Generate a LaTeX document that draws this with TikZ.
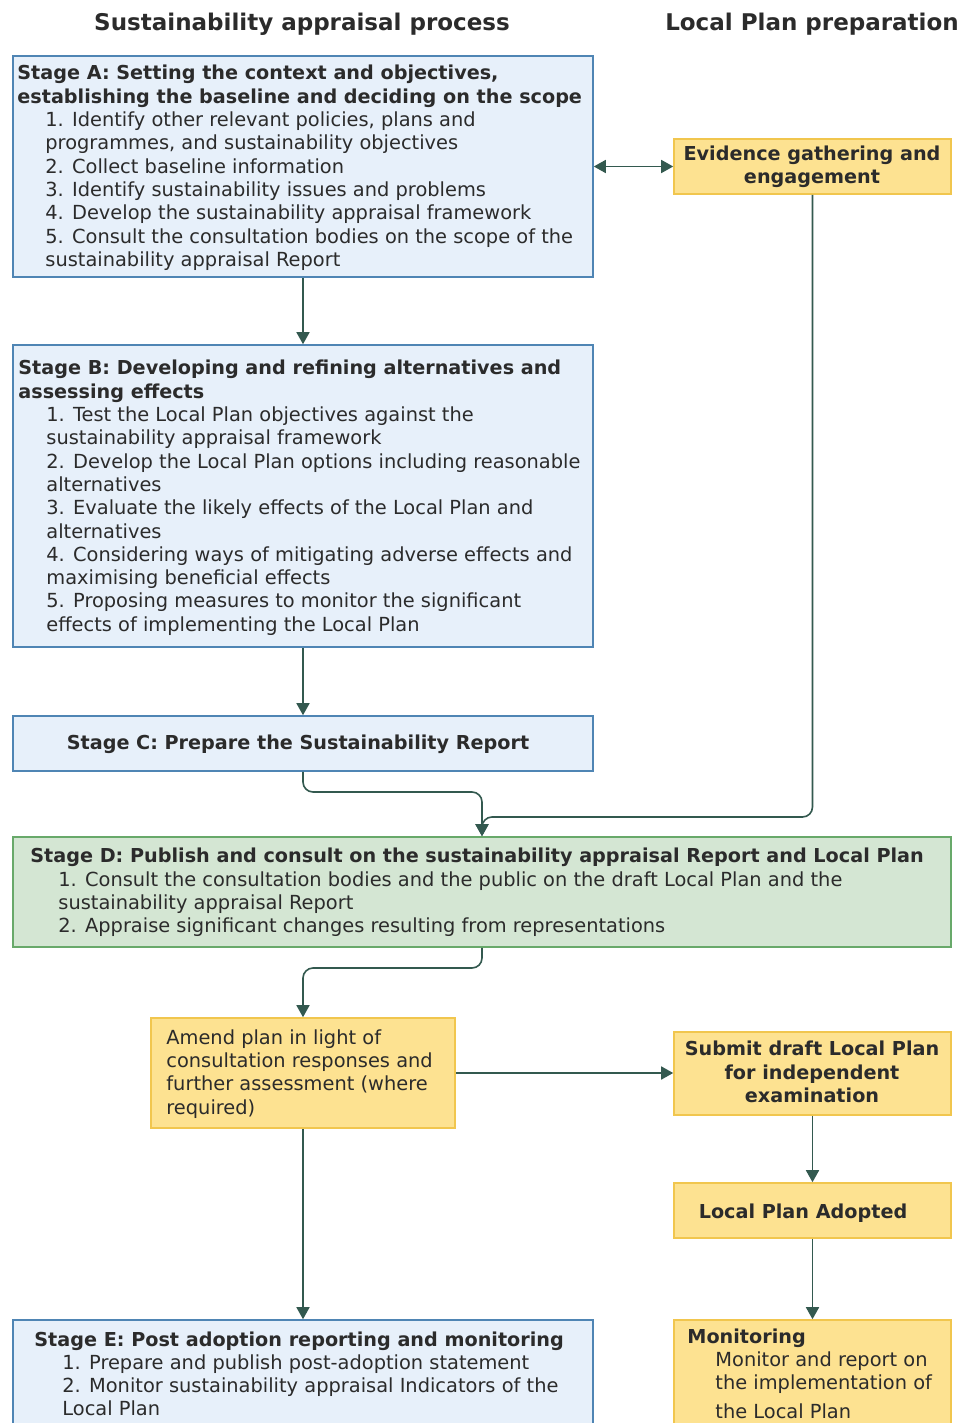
\documentclass[tikz,border=0pt]{standalone}
\usepackage{fontspec}
\setmainfont{DejaVu Sans}
\usetikzlibrary{arrows.meta,positioning}
\definecolor{safill}{HTML}{E7F0FA}
\definecolor{saedge}{HTML}{4F85B4}
\definecolor{lpfill}{HTML}{FDE291}
\definecolor{lpedge}{HTML}{F1C64E}
\definecolor{pubfill}{HTML}{D4E6D3}
\definecolor{pubedge}{HTML}{68A96A}
\definecolor{flow}{HTML}{33594F}
\definecolor{ink}{HTML}{2B2B2B}
\newcommand{\itemind}{\hspace*{14pt}}
\newcommand{\sttl}[1]{{\fontsize{9.6}{11.65}\selectfont\bfseries #1}}

\begin{document}
\begin{tikzpicture}[x=0.5pt,y=-0.5pt,
  sabox/.style={draw=saedge,fill=safill,line width=0.8pt,minimum width=290pt,inner sep=0pt},
  lpbox/.style={draw=lpedge,fill=lpfill,line width=0.8pt,minimum width=138.5pt,inner sep=0pt},
  txt/.style={text=ink,font=\fontsize{9.7}{11.65}\selectfont,inner sep=0pt,align=left,anchor=north west},
  ctxt/.style={text=ink,font=\fontsize{9.6}{11.65}\selectfont\bfseries,inner sep=0pt,align=center},
  head/.style={text=ink,font=\fontsize{11.5}{14}\selectfont\bfseries},
  flowline/.style={draw=flow,line width=0.8pt,rounded corners=5pt,-{Triangle[length=6pt,width=6.5pt]}}]
\useasboundingbox (0,0) rectangle (962,1423);
\clip (0,0) rectangle (962,1423);
\fill[white] (0,0) rectangle (962,1423);

\node[head] (headsa) at (302,24) {Sustainability appraisal process};
\node[head] (headlp) at (812,24) {Local Plan preparation};

% boxes
\node[sabox,minimum height=110.5pt] (stageA) at (303,166.5) {};
\node[lpbox,minimum height=27.5pt] (evid) at (812.5,166.5) {};
\node[sabox,minimum height=151pt] (stageB) at (303,496) {};
\node[sabox,minimum height=27.5pt] (stageC) at (303,743.5) {};
\node[draw=pubedge,fill=pubfill,line width=0.8pt,inner sep=0pt,minimum width=469pt,minimum height=55pt] (stageD) at (482,892) {};
\node[lpbox,minimum width=152pt,minimum height=55pt] (amend) at (303,1073) {};
\node[lpbox,minimum height=41.5pt] (submit) at (812.5,1073.5) {};
\node[lpbox,minimum height=27.5pt] (adopted) at (812.5,1210.5) {};
\node[lpbox,minimum height=60pt] (monit) at (812.5,1380) {};
\node[sabox,minimum height=60pt] (stageE) at (303,1380) {};

% texts
\node[txt] (stageAtxt) at (17,65) {\sttl{Stage A: Setting the context and objectives,}\\
  \sttl{establishing the baseline and deciding on the scope}\\
  \itemind 1. Identify other relevant policies, plans and\\
  \itemind programmes, and sustainability objectives\\
  \itemind 2. Collect baseline information\\
  \itemind 3. Identify sustainability issues and problems\\
  \itemind 4. Develop the sustainability appraisal framework\\
  \itemind 5. Consult the consultation bodies on the scope of the\\
  \itemind sustainability appraisal Report};
\node[ctxt] (evidtxt) at (812,167) {Evidence gathering and\\engagement};
\node[txt] (stageBtxt) at (18,360) {\sttl{Stage B: Developing and refining alternatives and}\\
  \sttl{assessing effects}\\
  \itemind 1. Test the Local Plan objectives against the\\
  \itemind sustainability appraisal framework\\
  \itemind 2. Develop the Local Plan options including reasonable\\
  \itemind alternatives\\
  \itemind 3. Evaluate the likely effects of the Local Plan and\\
  \itemind alternatives\\
  \itemind 4. Considering ways of mitigating adverse effects and\\
  \itemind maximising beneficial effects\\
  \itemind 5. Proposing measures to monitor the significant\\
  \itemind effects of implementing the Local Plan};
\node[ctxt] (stageCtxt) at (298,744) {Stage C: Prepare the Sustainability Report};
\node[txt] (stageDtxt) at (30,848) {\sttl{Stage D: Publish and consult on the sustainability appraisal Report and Local Plan}\\
  \itemind 1. Consult the consultation bodies and the public on the draft Local Plan and the\\
  \itemind sustainability appraisal Report\\
  \itemind 2. Appraise significant changes resulting from representations};
\node[txt] (amendtxt) at (166,1029) {Amend plan in light of\\consultation responses and\\further assessment (where\\required)};
\node[ctxt] (submittxt) at (812,1072) {Submit draft Local Plan\\for independent\\examination};
\node[ctxt] (adoptedtxt) at (803,1213) {Local Plan Adopted};
\node[txt] (monittxt) at (687,1328) {\sttl{Monitoring}\\
  \itemind Monitor and report on\\
  \itemind the implementation of\\[3pt]
  \itemind the Local Plan};
\node[txt] (stageEtxt) at (34,1331) {\sttl{Stage E: Post adoption reporting and monitoring}\\
  \itemind 1. Prepare and publish post-adoption statement\\
  \itemind 2. Monitor sustainability appraisal Indicators of the\\
  \itemind Local Plan};

% connectors
\draw[flowline,{Triangle[length=6pt,width=6.5pt]}-{Triangle[length=6pt,width=6.5pt]}] (stageA.east) -- (evid.west);
\draw[flowline] (stageA.south) -- (stageB.north);
\draw[flowline] (stageB.south) -- (stageC.north);
\draw[flowline] (stageC.south) -- (303,792) -| (stageD.north);
\draw[flowline] (evid.south) -- (812.5,817) -| (stageD.north);
\draw[flowline] (stageD.south) -- (482,968) -| (amend.north);
\draw[flowline] (amend.east) -- (amend.east -| submit.west);
\draw[flowline] (submit.south) -- (adopted.north);
\draw[flowline] (adopted.south) -- (monit.north);
\draw[flowline] (amend.south) -- (stageE.north);
\end{tikzpicture}
\end{document}
